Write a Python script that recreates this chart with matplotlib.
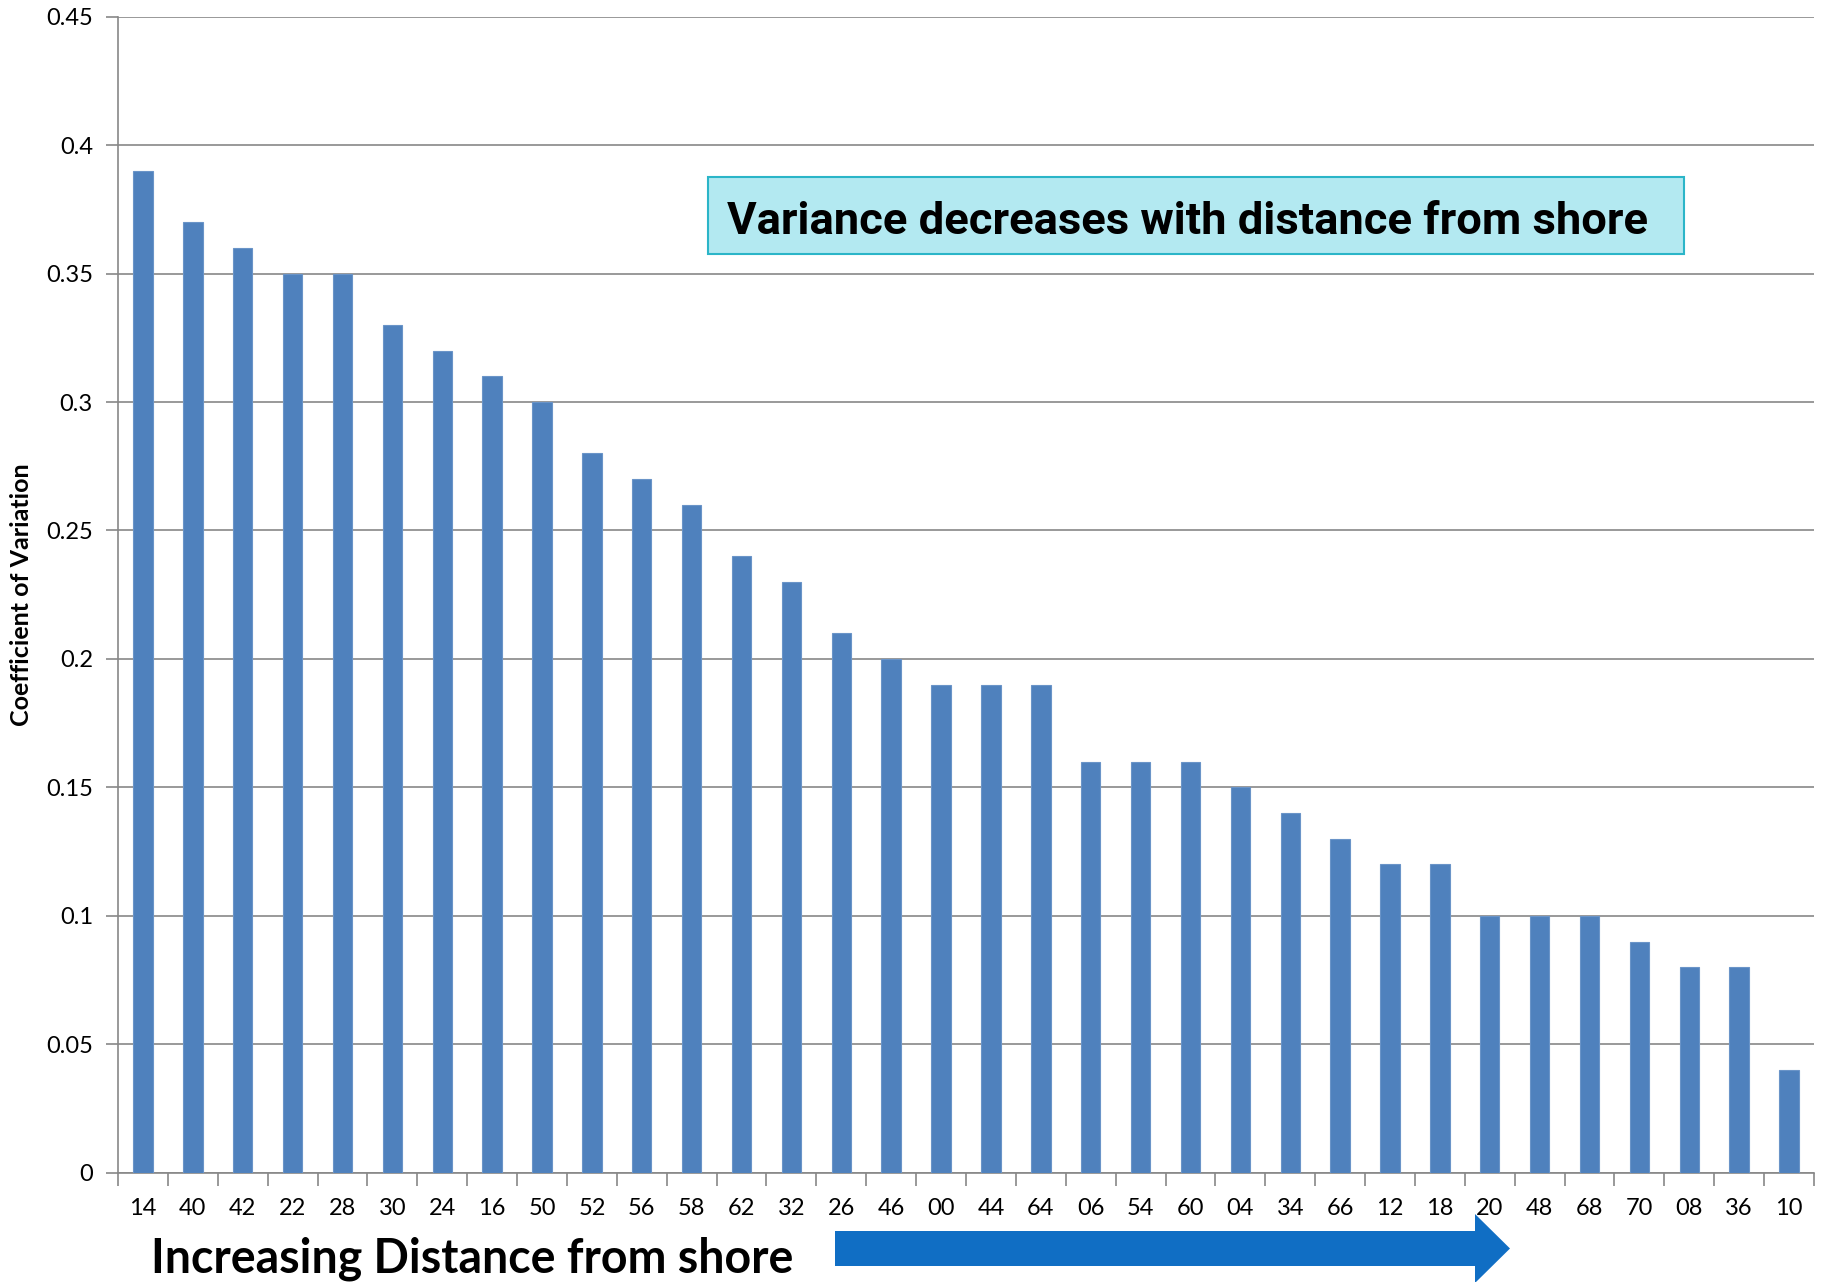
import matplotlib
matplotlib.use("Agg")
import matplotlib.pyplot as plt
from matplotlib.patches import Rectangle, Polygon
import numpy as np

# Station codes, ordered by distance from shore, and their coefficient of variation
stations = ["14", "40", "42", "22", "28", "30", "24", "16", "50", "52", "56", "58",
            "62", "32", "26", "46", "00", "44", "64", "06", "54", "60", "04", "34",
            "66", "12", "18", "20", "48", "68", "70", "08", "36", "10"]
cv_values = [0.39, 0.37, 0.36, 0.35, 0.35, 0.33, 0.32, 0.31, 0.30, 0.28, 0.27, 0.26,
             0.24, 0.23, 0.21, 0.20, 0.19, 0.19, 0.19, 0.16, 0.16, 0.16, 0.15, 0.14,
             0.13, 0.12, 0.12, 0.10, 0.10, 0.10, 0.09, 0.08, 0.08, 0.04]
y_ticks = [0, 0.05, 0.1, 0.15, 0.2, 0.25, 0.3, 0.35, 0.4, 0.45]
y_ticklabels = ["0", "0.05", "0.1", "0.15", "0.2", "0.25", "0.3", "0.35", "0.4", "0.45"]

W, H = 1825, 1282
fig = plt.figure(figsize=(W / 100, H / 100), dpi=100)
ax = fig.add_axes([118 / W, 1 - 1172.7 / H, (1814 - 118) / W, (1172.7 - 16.7) / H])

grid_col = "#878787"
bar_col = "#4F81BD"

x = np.arange(len(stations))
ax.bar(x, cv_values, width=0.39, color=bar_col, edgecolor="#6A94C8", linewidth=0.8, zorder=3)

ax.set_xlim(-0.5, len(stations) - 0.5)
ax.set_ylim(0, 0.45)
ax.set_yticks(y_ticks)
ax.set_yticklabels(y_ticklabels, fontfamily="Lato", fontsize=17)
ax.yaxis.grid(True, color=grid_col, linewidth=1.2, zorder=0)

# category labels at bar centres, tick marks at category boundaries
ax.set_xticks(x)
ax.set_xticklabels(stations, fontfamily="Lato", fontsize=17)
ax.set_xticks(np.arange(-0.5, len(stations)), minor=True)
ax.tick_params(axis="x", which="major", length=0, pad=18)
ax.tick_params(axis="x", which="minor", length=9, width=1.2, color=grid_col)
ax.tick_params(axis="y", which="major", length=9, width=1.2, color=grid_col, pad=9)

for side in ("top", "right"):
    ax.spines[side].set_visible(False)
for side in ("left", "bottom"):
    ax.spines[side].set_color(grid_col)
    ax.spines[side].set_linewidth(1.2)

fig.text(22 / W, 1 - 594.7 / H, "Coefficient of Variation", rotation=90,
         ha="center", va="center", fontfamily="Lato", fontweight="bold", fontsize=18)

# callout box
fig.patches.append(Rectangle((708 / W, 1 - 254 / H), (1684 - 708) / W, (254 - 177) / H,
                             transform=fig.transFigure, facecolor="#B3E9F1",
                             edgecolor="#2BB5C8", linewidth=1.5, zorder=5))
fig.text(727 / W, 1 - 222 / H, "Variance decreases with distance from shore",
         ha="left", va="center", fontfamily="Roboto",
         fontweight="bold", fontsize=32.7, zorder=6)

# distance label and arrow
fig.text(151 / W, 1 - 1259 / H, "Increasing Distance from shore", ha="left", va="center",
         fontfamily="Lato", fontweight="bold", fontsize=33.5)
arrow_px = [(835, 1231), (1475, 1231), (1475, 1214), (1510, 1248.5),
            (1475, 1283), (1475, 1266), (835, 1266)]
fig.patches.append(Polygon([(px / W, 1 - py / H) for px, py in arrow_px],
                           closed=True, transform=fig.transFigure,
                           facecolor="#106EC4", edgecolor="none", zorder=5))

fig.savefig("out.png", dpi=100)
